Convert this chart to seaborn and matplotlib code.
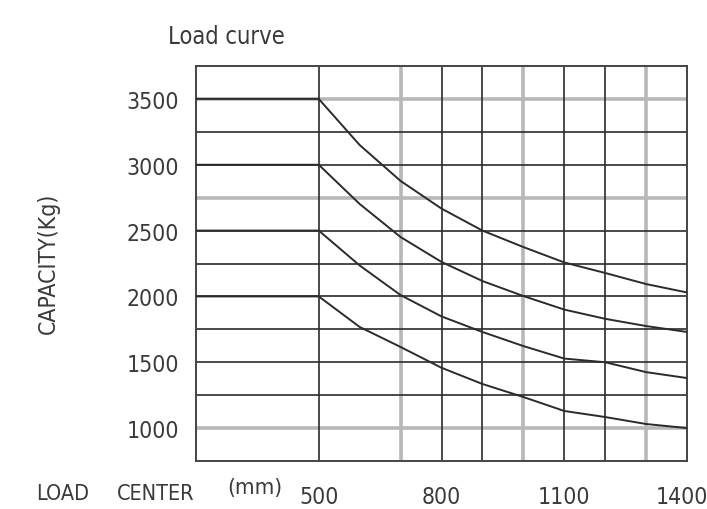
import numpy as np
import pandas as pd
import matplotlib
matplotlib.use('Agg')
import matplotlib.pyplot as plt
import matplotlib.transforms as mtrans
import seaborn as sns

# load center (mm) and capacity (kg)
load_center = [200, 500, 600, 700, 800, 900, 1000, 1100, 1200, 1300, 1400]
cap_3500 = [3500, 3500, 3150, 2877, 2667, 2500, 2375, 2258, 2178, 2094, 2030]
cap_3000 = [3000, 3000, 2702, 2451, 2262, 2117, 2003, 1900, 1830, 1775, 1730]
cap_2500 = [2500, 2500, 2235, 2010, 1848, 1730, 1623, 1528, 1500, 1425, 1380]
cap_2000 = [2000, 2000, 1768, 1616, 1458, 1335, 1236, 1130, 1084, 1031, 1000]

x_ticks = [500, 800, 1100, 1400]
y_ticks = [1000, 1500, 2000, 2500, 3000, 3500]

# grid layout of the drawing: dark lines plus a few light, heavier ones
v_dark = [500, 800, 900, 1100, 1200]
v_light = [700, 1000, 1300]
h_dark = [1250, 1500, 1750, 2000, 2250, 2500, 3000, 3250]
h_light = [1000, 2750, 3500]

sns.set_style('white')
plt.rcParams['font.family'] = ['DejaVu Sans']
plt.rcParams['font.stretch'] = 'condensed'

ink = '#2b2b2b'
text_col = '#3a3a3a'

fig = plt.figure(figsize=(7.07, 5.10), dpi=100)
ax = fig.add_axes([196 / 707, 1 - 462 / 510, 491 / 707, 395 / 510])

for v in v_light:
    ax.axvline(v, color='#b8b8b8', lw=2.6, zorder=1)
for v in v_dark:
    ax.axvline(v, color=ink, lw=1.2, zorder=2)
for h in h_light:
    ax.axhline(h, color='#b8b8b8', lw=2.6, zorder=1)
for h in h_dark:
    ax.axhline(h, color=ink, lw=1.2, zorder=2)

df = pd.DataFrame({
    'Load center': load_center * 4,
    'Capacity': cap_3500 + cap_3000 + cap_2500 + cap_2000,
    'Series': ['3500'] * 11 + ['3000'] * 11 + ['2500'] * 11 + ['2000'] * 11,
})
sns.lineplot(data=df, x='Load center', y='Capacity', units='Series',
             estimator=None, color=ink, lw=1.4, ax=ax, zorder=3)

ax.set_xlim(200, 1400)
ax.set_ylim(750, 3750)
ax.set_xticks(x_ticks)
ax.set_xticklabels([str(v) for v in x_ticks])
ax.set_yticks(y_ticks)
ax.set_yticklabels([str(v) for v in y_ticks])
ax.tick_params(axis='x', length=0, pad=17, labelsize=16.5, labelcolor=text_col)
ax.tick_params(axis='y', length=0, pad=12, labelsize=16.5, labelcolor=text_col)
# last label sits against the right edge of the picture
last = ax.get_xticklabels()[-1]
last.set_transform(last.get_transform() +
                   mtrans.ScaledTranslation(-5 / 100, 0, fig.dpi_scale_trans))
ax.set_xlabel('')
ax.set_ylabel('')
for s in ax.spines.values():
    s.set_color('#444444')
    s.set_linewidth(1.4)
    s.set_visible(True)

fig.text(168 / 707, 1 - 37 / 510, 'Load curve', fontsize=17, color=text_col,
         ha='left', va='center')
fig.text(48 / 707, 1 - 263 / 510, 'CAPACITY(Kg)', fontsize=16.5, color=text_col,
         rotation=90, ha='center', va='center')
fig.text(63 / 707, 1 - 494 / 510, 'LOAD', fontsize=15.5, color=text_col,
         ha='center', va='center')
fig.text(156 / 707, 1 - 494 / 510, 'CENTER', fontsize=15.5, color=text_col,
         ha='center', va='center')
fig.text(255 / 707, 1 - 488 / 510, '(mm)', fontsize=16, color=text_col,
         ha='center', va='center')

fig.savefig('out.png', dpi=100)
